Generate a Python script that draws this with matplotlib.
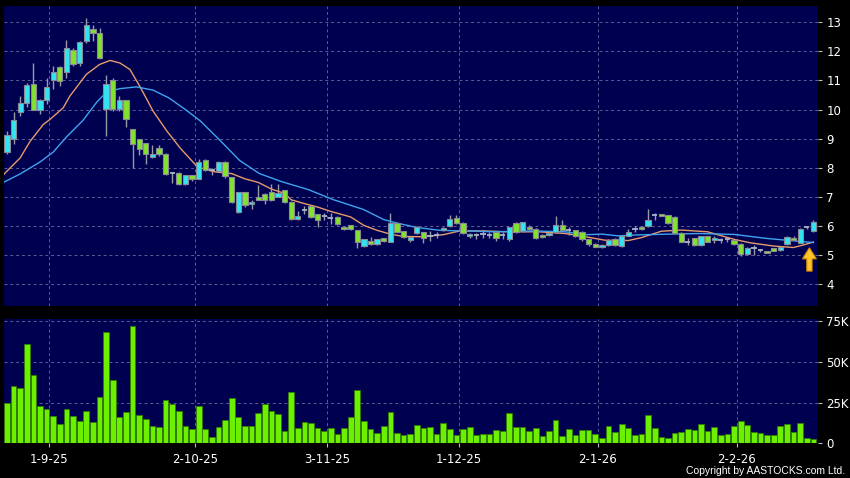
import numpy as np
import matplotlib.pyplot as plt
from matplotlib.patches import FancyArrow

# trading days, one candle per day (index 0..122)
date_labels = ['1-9-25', '2-10-25', '3-11-25', '1-12-25', '2-1-26', '2-2-26']
date_idx = [6, 28, 48, 68, 89, 110]

opens = [8.54, 9.0, 9.92, 10.21, 10.87, 9.97, 10.32, 11.0, 11.47, 11.3,
         12.05, 11.59, 12.36, 12.76, 12.62, 10.02, 11.01, 10.02, 10.34, 9.34,
         9.0, 8.85, 8.37, 8.69, 8.46, 7.83, 7.83, 7.45, 7.74, 7.62,
         8.26, 7.92, 7.89, 8.2, 7.68, 6.48, 7.16, 6.77, 6.98, 7.1,
         7.16, 7.0, 7.23, 6.83, 6.24, 6.55, 6.68, 6.4, 6.33, 6.26,
         6.31, 5.98, 6.03, 5.85, 5.31, 5.5, 5.39, 5.57, 5.46, 6.11,
         5.82, 5.52, 5.76, 5.79, 5.66, 5.7, 5.85, 6.0, 6.27, 6.1,
         5.64, 5.69, 5.72, 5.7, 5.78, 5.69, 5.56, 6.09, 5.83, 5.98,
         5.9, 5.7, 5.68, 5.79, 6.03, 5.87, 5.85, 5.8, 5.54, 5.39,
         5.28, 5.34, 5.55, 5.31, 5.66, 5.9, 5.98, 6.0, 6.37, 6.4,
         6.37, 6.31, 5.77, 5.46, 5.57, 5.34, 5.65, 5.51, 5.51, 5.54,
         5.51, 5.38, 5.03, 5.26, 5.17, 5.13, 5.23, 5.17, 5.38, 5.59,
         5.42, 5.95, 5.83]
closes = [9.11, 9.63, 10.21, 10.84, 9.99, 10.32, 10.76, 11.3, 10.98, 12.10,
          11.56, 12.33, 12.89, 12.62, 11.79, 10.87, 10.02, 10.34, 9.69, 8.83,
          8.66, 8.48, 8.46, 8.46, 7.8, 7.83, 7.45, 7.74, 7.62, 8.2,
          7.94, 7.92, 8.2, 7.71, 6.83, 7.16, 6.71, 6.83, 6.9, 6.9,
          6.9, 7.14, 6.83, 6.24, 6.33, 6.55, 6.31, 6.22, 6.33, 6.26,
          6.08, 5.89, 5.89, 5.46, 5.54, 5.39, 5.54, 5.5, 6.11, 5.8,
          5.63, 5.62, 5.98, 5.59, 5.66, 5.7, 5.92, 6.23, 6.1, 5.75,
          5.73, 5.69, 5.72, 5.7, 5.58, 5.69, 5.96, 5.79, 6.13, 5.9,
          5.58, 5.63, 5.77, 6.03, 5.86, 5.87, 5.66, 5.54, 5.37, 5.29,
          5.35, 5.53, 5.34, 5.65, 5.79, 5.9, 5.88, 6.2, 6.37, 6.36,
          6.09, 5.77, 5.46, 5.46, 5.34, 5.65, 5.46, 5.57, 5.51, 5.54,
          5.38, 5.03, 5.26, 5.26, 5.17, 5.08, 5.15, 5.29, 5.63, 5.53,
          5.91, 5.95, 6.14]
highs = [9.28, 9.92, 10.45, 10.9, 11.59, 10.38, 11.07, 11.49, 11.5, 12.39,
         12.1, 12.35, 13.14, 12.92, 12.8, 11.18, 11.07, 10.45, 10.34, 9.34,
         9.0, 8.85, 8.78, 8.78, 8.5, 7.85, 7.85, 7.76, 7.76, 8.29,
         8.3, 8.0, 8.22, 8.22, 7.7, 7.18, 7.18, 6.9, 7.41, 7.12,
         7.45, 7.45, 7.25, 6.85, 6.5, 6.68, 6.7, 6.42, 6.45, 6.46,
         6.33, 6.0, 6.05, 5.87, 5.56, 5.62, 5.56, 5.6, 6.46, 6.13,
         5.84, 5.65, 6.0, 5.8, 5.82, 5.78, 5.95, 6.38, 6.38, 6.12,
         5.75, 5.75, 5.85, 5.8, 5.8, 5.8, 5.98, 6.12, 6.15, 6.05,
         5.92, 5.72, 5.79, 6.34, 6.2, 5.98, 5.87, 5.82, 5.56, 5.41,
         5.38, 5.55, 5.57, 5.68, 5.9, 6.0, 6.0, 6.6, 6.45, 6.42,
         6.39, 6.33, 5.79, 5.57, 5.6, 5.67, 5.67, 5.64, 5.6, 5.6,
         5.53, 5.4, 5.28, 5.34, 5.22, 5.15, 5.25, 5.31, 5.65, 5.65,
         5.93, 6.0, 6.22]
lows = [8.48, 8.83, 9.77, 10.1, 9.98, 9.84, 10.2, 10.72, 10.8, 11.07,
        11.5, 11.5, 12.3, 12.36, 11.75, 9.08, 9.95, 9.95, 9.4, 8.0,
        8.45, 8.14, 8.35, 8.4, 7.75, 7.48, 7.4, 7.4, 7.55, 7.6,
        7.9, 7.75, 7.85, 7.65, 6.8, 6.45, 6.65, 6.6, 6.88, 6.75,
        6.85, 6.98, 6.8, 6.2, 6.2, 6.4, 6.28, 5.95, 6.2, 6.06,
        6.05, 5.85, 5.85, 5.26, 5.28, 5.35, 5.35, 5.45, 5.44, 5.78,
        5.6, 5.45, 5.74, 5.42, 5.5, 5.6, 5.83, 5.98, 6.08, 5.73,
        5.6, 5.55, 5.6, 5.6, 5.5, 5.55, 5.5, 5.77, 5.8, 5.85,
        5.55, 5.6, 5.66, 5.77, 5.84, 5.7, 5.63, 5.5, 5.3, 5.27,
        5.26, 5.32, 5.3, 5.29, 5.64, 5.8, 5.85, 5.98, 6.2, 6.34,
        6.07, 5.75, 5.44, 5.36, 5.3, 5.32, 5.44, 5.4, 5.4, 5.45,
        5.36, 4.98, 5.0, 5.0, 5.1, 5.06, 5.13, 5.15, 5.36, 5.51,
        5.4, 5.9, 5.81]

# volume in thousands of shares
volume_k = [24.4, 35.2, 34.2, 60.6, 41.7, 22.6, 21.1, 16.5, 11.8, 21.3,
            16.9, 13.8, 19.5, 12.8, 28.5, 68.3, 38.8, 16.3, 18.9, 72.2,
            17.5, 15.2, 10.6, 9.8, 26.4, 23.8, 19.9, 10.8, 8.9, 22.6,
            8.5, 4.1, 10.2, 14.2, 27.6, 15.9, 10.6, 10.6, 18.3, 23.8,
            19.7, 17.9, 7.7, 31.7, 9.1, 12.8, 12.4, 9.1, 7.3, 9.6,
            5.5, 9.6, 16.1, 32.7, 13.6, 8.5, 6.5, 10.4, 19.3, 6.1,
            5.1, 5.7, 11.0, 9.4, 10.0, 5.7, 12.2, 8.7, 5.1, 8.7,
            9.8, 5.1, 5.9, 5.7, 7.9, 7.3, 18.7, 9.8, 9.8, 7.5,
            9.1, 4.7, 7.3, 14.0, 4.5, 8.9, 5.3, 8.3, 8.3, 5.5,
            3.3, 10.4, 6.7, 11.6, 9.4, 5.1, 5.5, 17.1, 9.4, 4.1,
            3.3, 6.5, 7.1, 8.7, 8.3, 11.6, 7.7, 9.8, 5.1, 5.5,
            10.4, 13.6, 11.0, 6.7, 6.1, 5.3, 5.3, 10.4, 12.0, 7.1,
            12.4, 3.1, 2.6]

# moving averages
ma10_x = [-0.5, 2, 3.5, 5.5, 6.5, 8.5, 9.5, 12, 14, 15.6,
          17.1, 18.6, 20.1, 22.1, 24.2, 26.2, 28.7, 30, 31.5, 34,
          36, 38, 40, 42, 43, 45, 47, 49, 52, 54,
          56, 58, 60, 63, 66, 68.5, 72, 76, 80.5, 84.5,
          87.5, 90.5, 94, 96, 99, 102, 106, 110, 112.5, 116,
          119, 121, 122]
ma10_y = [7.77, 8.34, 8.91, 9.49, 9.66, 10.06, 10.46, 11.21, 11.55, 11.69,
          11.6, 11.38, 10.8, 9.95, 9.26, 8.68, 8.06, 7.94, 7.86, 7.8,
          7.62, 7.5, 7.27, 7.12, 6.9, 6.77, 6.65, 6.5, 6.31, 6.02,
          5.85, 5.72, 5.64, 5.63, 5.7, 5.83, 5.83, 5.8, 5.8, 5.74,
          5.63, 5.51, 5.5, 5.6, 5.82, 5.86, 5.8, 5.54, 5.42, 5.31,
          5.26, 5.38, 5.45]
ma20_x = [-0.5, 2, 5, 7, 9, 11.5, 13.6, 15.1, 17.1, 19.6,
          22.1, 24.5, 27, 29.2, 32.2, 35.2, 38.2, 41.6, 45.6, 49.3,
          53.9, 57, 59, 62, 65.5, 69, 74, 79.5, 84.5, 87.5,
          90, 92.5, 95, 100, 105, 110, 115, 118, 122]
ma20_y = [7.5, 7.79, 8.2, 8.54, 9.06, 9.63, 10.26, 10.61, 10.72, 10.78,
          10.67, 10.4, 10.0, 9.62, 8.95, 8.25, 7.8, 7.52, 7.25, 6.91,
          6.57, 6.22, 6.1, 5.95, 5.85, 5.83, 5.8, 5.83, 5.8, 5.7,
          5.72, 5.66, 5.69, 5.72, 5.74, 5.71, 5.57, 5.51, 5.43]

o = np.array(opens)
c = np.array(closes)
hi = np.array(highs)
lo = np.array(lows)
vol = np.array(volume_k)
x = np.arange(len(c))

W, H = 850, 478


def box(l, t, r, b):
    return [l / W, 1 - b / H, (r - l) / W, (b - t) / H]


fig = plt.figure(figsize=(W / 100, H / 100), dpi=100, facecolor='black')
ax = fig.add_axes(box(4, 6, 818, 306))
axv = fig.add_axes(box(4, 319, 818, 443.3), sharex=ax)

navy = '#000050'
tick_pos = np.array(date_idx) + 0.4
for a in (ax, axv):
    a.set_facecolor(navy)
    for s in a.spines.values():
        s.set_visible(False)
    a.yaxis.tick_right()
    a.tick_params(axis='y', colors='#bbbbbb', labelcolor='white',
                  length=3, width=0.8, pad=3, labelsize=8.5)
    a.set_xticks(tick_pos)
    a.grid(True, color='#5e5e96', linestyle=(0, (3, 3)), linewidth=0.7)
    a.set_axisbelow(True)

# price panel
ax.set_xlim(-0.45, 122.7)
ax.set_ylim(3.25, 13.56)
ax.set_yticks(range(4, 14))
ax.tick_params(axis='x', length=0, labelbottom=False)

up = c > o
dn = c < o
flat = c == o
body_lo = np.minimum(o, c)
body_h = np.abs(c - o)

ax.vlines(x, lo, hi, color='#9a9aa6', lw=1, zorder=2)
ax.plot(ma10_x, ma10_y, color='#e89a6c', lw=1, zorder=2.5)
ax.plot(ma20_x, ma20_y, color='#3fa4ee', lw=1, zorder=2.5)
ax.bar(x[up], body_h[up], bottom=body_lo[up], width=0.8, color='#33e4f0',
       edgecolor='#8a8a96', lw=0.8, zorder=3)
ax.bar(x[dn], body_h[dn], bottom=body_lo[dn], width=0.8, color='#82e22e',
       edgecolor='#8a8a96', lw=0.8, zorder=3)
ax.hlines(c[flat], x[flat] - 0.4, x[flat] + 0.4, color='#a8b4c8', lw=1.3, zorder=3)

# yellow marker arrow under the latest candles
ax.add_patch(FancyArrow(len(c) - 1.6, 4.45, 0, 0.8, width=0.8, head_width=2.1,
                        head_length=0.38, length_includes_head=True,
                        fc='#ffc52a', ec='#d88a00', lw=0.8, zorder=5))

# volume panel
axv.bar(x, vol, width=0.86, color='#6cf000', edgecolor='#2f7d00', lw=0.6, zorder=3)
axv.set_ylim(0, 76.2)
axv.set_yticks([0, 25, 50, 75])
axv.set_yticklabels(['0', '25K', '50K', '75K'])
axv.set_xticklabels(date_labels)
axv.tick_params(axis='x', colors='#bbbbbb', labelcolor='white', length=3,
                width=0.8, pad=4, labelsize=8.5)

fig.text(845 / W, 1 - 471.5 / H, 'Copyright by AASTOCKS.com Ltd.', ha='right',
         va='center', color='white', fontsize=7.5, family='Liberation Sans')

fig.savefig('out.png', dpi=100, facecolor='black')
